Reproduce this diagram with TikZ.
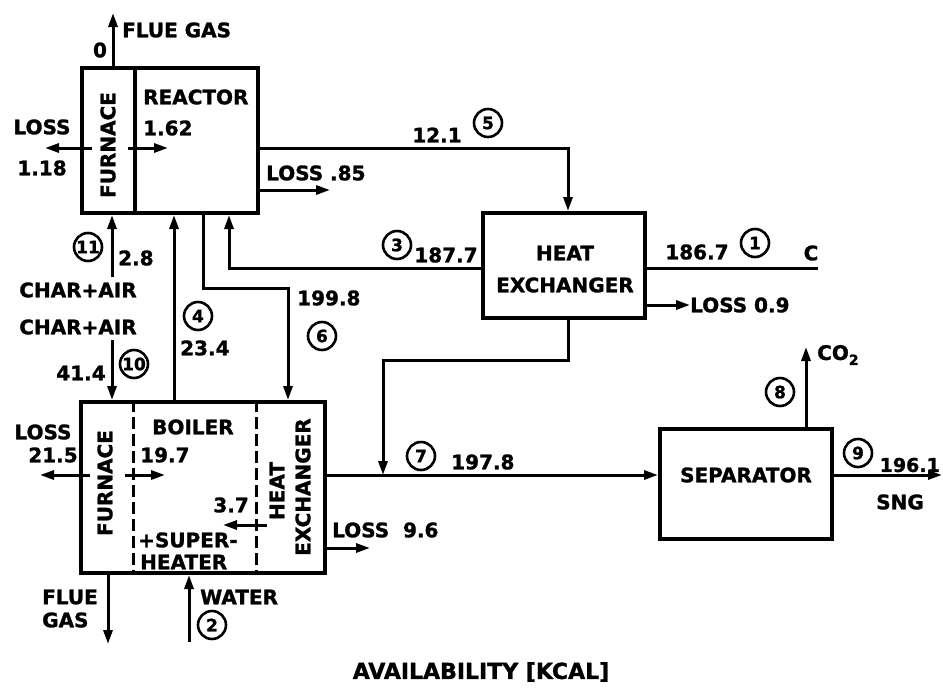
\documentclass[tikz,border=0pt]{standalone}
\usepackage{fontspec}
\setmainfont{DejaVu Sans}[BoldFont={DejaVu Sans Bold},BoldFeatures={FakeBold=1.3}]
\usetikzlibrary{arrows.meta}
\begin{document}
\begin{tikzpicture}[x=1pt,y=-1pt,
  line/.style={line width=3pt},
  arr/.style={line width=3pt,-{Triangle[length=14pt,width=9pt]}},
  boxline/.style={line width=4pt},
  dashline/.style={line width=3pt,dash pattern=on 12pt off 5pt},
  box/.style={draw,line width=4pt,inner sep=0pt},
  lbl/.style={font=\bfseries\fontsize{20}{23}\selectfont,inner sep=0pt},
  ttl/.style={font=\bfseries\fontsize{22}{25}\selectfont,inner sep=0pt},
  num/.style={circle,draw,line width=2.6pt,minimum size=28pt,inner sep=0pt,font=\bfseries\fontsize{17}{19}\selectfont}]
\useasboundingbox (0,0) rectangle (943,689);
\fill[white] (0,0) rectangle (943,689);

% boxes
\node[box,minimum width=176pt,minimum height=145pt] (R) at (170,140.5) {};
\node[box,minimum width=162pt,minimum height=105pt] (H) at (564,265.5) {};
\node[box,minimum width=244pt,minimum height=171pt] (B) at (203,487.5) {};
\node[box,minimum width=172pt,minimum height=110pt] (S) at (746,484) {};

% dividers
\coordinate (rdiv) at (135,140);
\draw[boxline] (rdiv |- R.north) -- (rdiv |- R.south);
\coordinate (bdiv1) at (133,480);
\coordinate (bdiv2) at (256,480);
\draw[dashline] (bdiv1 |- B.north) -- (bdiv1 |- B.south);
\draw[dashline] (bdiv2 |- B.north) -- (bdiv2 |- B.south);

% coordinates
\coordinate (fg) at (113,13);
\coordinate (fr1) at (128,148);
\coordinate (fr2) at (168,148);
\coordinate (ll1) at (92,148);
\coordinate (ll2) at (45,148);
\coordinate (c5) at (568,148);
\coordinate (l85) at (330,190);
\coordinate (c3) at (229,268);
\coordinate (c1) at (818,268);
\coordinate (l09) at (690,305);
\coordinate (c7a) at (568,360);
\coordinate (c7b) at (383,360);
\coordinate (c7j) at (383,475);
\coordinate (c11) at (112,277);
\coordinate (c10) at (112,340);
\coordinate (c4) at (174,300);
\coordinate (c6a) at (203,288);
\coordinate (c6b) at (288,288);
\coordinate (fb1) at (125,475);
\coordinate (fb2) at (165,475);
\coordinate (bl1) at (90,475);
\coordinate (bl2) at (40,475);
\coordinate (hb1) at (267,525);
\coordinate (hb2) at (223,525);
\coordinate (l96) at (370,548);
\coordinate (fgb) at (108,644);
\coordinate (wat) at (189,642);
\coordinate (c8) at (806,347);
\coordinate (sng) at (942,475);

% connectors
\draw[arr] (fg |- R.north) -- (fg);
\draw[arr] (fr1) -- (fr2);
\draw[arr] (ll1) -- (ll2);
\draw[arr] (R.east |- c5) -- (c5) -- (c5 |- H.north);
\draw[arr] (R.east |- l85) -- (l85);
\draw[arr] (H.west |- c3) -- (c3) -- (c3 |- R.south);
\draw[line] (H.east |- c1) -- (c1);
\draw[arr] (H.east |- l09) -- (l09);
\draw[arr] (c7a |- H.south) -- (c7a) -- (c7b) -- (c7j);
\draw[arr] (c11) -- (c11 |- R.south);
\draw[arr] (c10) -- (c10 |- B.north);
\draw[arr] (c4 |- B.north) -- (c4 |- R.south);
\draw[arr] (c6a |- R.south) -- (c6a) -- (c6b) -- (c6b |- B.north);
\draw[arr] (fb1) -- (fb2);
\draw[arr] (bl1) -- (bl2);
\draw[arr] (hb1) -- (hb2);
\draw[arr] (B.east |- c7j) -- (S.west |- c7j);
\draw[arr] (B.east |- l96) -- (l96);
\draw[arr] (fgb |- B.south) -- (fgb);
\draw[arr] (wat) -- (wat |- B.south);
\draw[arr] (c8 |- S.north) -- (c8);
\draw[arr] (S.east |- sng) -- (sng);

% labels - reactor
\node[lbl] (t0) at (100,50) {0};
\node[lbl,anchor=west] (tfg) at (122,30) {FLUE GAS};
\node[lbl,rotate=90] (tfur1) at (108,145) {FURNACE};
\node[lbl,anchor=west] (treac) at (143,97) {REACTOR};
\node[lbl,anchor=west] (t162) at (143,128) {1.62};
\node[lbl] (tloss1) at (42,127) {LOSS};
\node[lbl] (t118) at (42,168) {1.18};
\node[lbl] (t121) at (437,135) {12.1};
\node[num] (n5) at (488,123) {5};
\node[lbl,anchor=west] (t85) at (266,173) {LOSS .85};
% heat exchanger
\node[lbl] (theat) at (565,253) {HEAT};
\node[lbl] (texch) at (565,285) {EXCHANGER};
\node[num] (n3) at (397,245) {3};
\node[lbl] (t1877) at (446,255) {187.7};
\node[lbl] (t1867) at (697,252) {186.7};
\node[num] (n1) at (755,243) {1};
\node[lbl] (tc) at (811,253) {C};
\node[lbl,anchor=west] (t09) at (690,305) {LOSS 0.9};
% middle
\node[num] (n11) at (88,247) {11};
\node[lbl,anchor=west] (t28) at (118,258) {2.8};
\node[lbl] (tca1) at (78,290) {CHAR+AIR};
\node[lbl] (tca2) at (78,327) {CHAR+AIR};
\node[lbl] (t414) at (81,373) {41.4};
\node[num] (n10) at (134,364) {10};
\node[num] (n4) at (198,316) {4};
\node[lbl,anchor=west] (t234) at (180,348) {23.4};
\node[lbl,anchor=west] (t1998) at (297,298) {199.8};
\node[num] (n6) at (322,336) {6};
% boiler
\node[lbl,rotate=90] (tfur2) at (105,483) {FURNACE};
\node[lbl,anchor=west] (tboil) at (152,427) {BOILER};
\node[lbl,anchor=west] (t197) at (140,455) {19.7};
\node[lbl] (tloss2) at (43,432) {LOSS};
\node[lbl] (t215) at (53,455) {21.5};
\node[lbl,anchor=east] (t37) at (249,505) {3.7};
\node[lbl,anchor=west] (tsup) at (138,540) {+SUPER-};
\node[lbl,anchor=west] (thtr) at (140,562) {HEATER};
\node[lbl,rotate=90] (theat2) at (277,491) {HEAT};
\node[lbl,rotate=90] (texch2) at (303,487) {EXCHANGER};
\node[num] (n7) at (421,456) {7};
\node[lbl,anchor=west] (t1978) at (451,462) {197.8};
\node[lbl,anchor=west] (t96) at (332,530) {LOSS\ \ 9.6};
% separator
\node[lbl] (tsep) at (746,475) {SEPARATOR};
\node[num] (n8) at (780,392) {8};
\node[lbl,anchor=west] (tco2) at (817,355) {CO\raisebox{-5pt}{\fontsize{14}{14}\selectfont 2}};
\node[num] (n9) at (858,453) {9};
\node[lbl,anchor=east,font=\bfseries\fontsize{19}{22}\selectfont] (t1961) at (940,465) {196.1};
\node[lbl] (tsng) at (900,502) {SNG};
% bottom
\node[lbl,anchor=west] (tflue) at (42,597) {FLUE};
\node[lbl,anchor=west] (tgas) at (42,620) {GAS};
\node[lbl,anchor=west] (twat) at (200,597) {WATER};
\node[num] (n2) at (212,625) {2};
\node[ttl] (ttitle) at (481,672) {AVAILABILITY [KCAL]};
\end{tikzpicture}
\end{document}
